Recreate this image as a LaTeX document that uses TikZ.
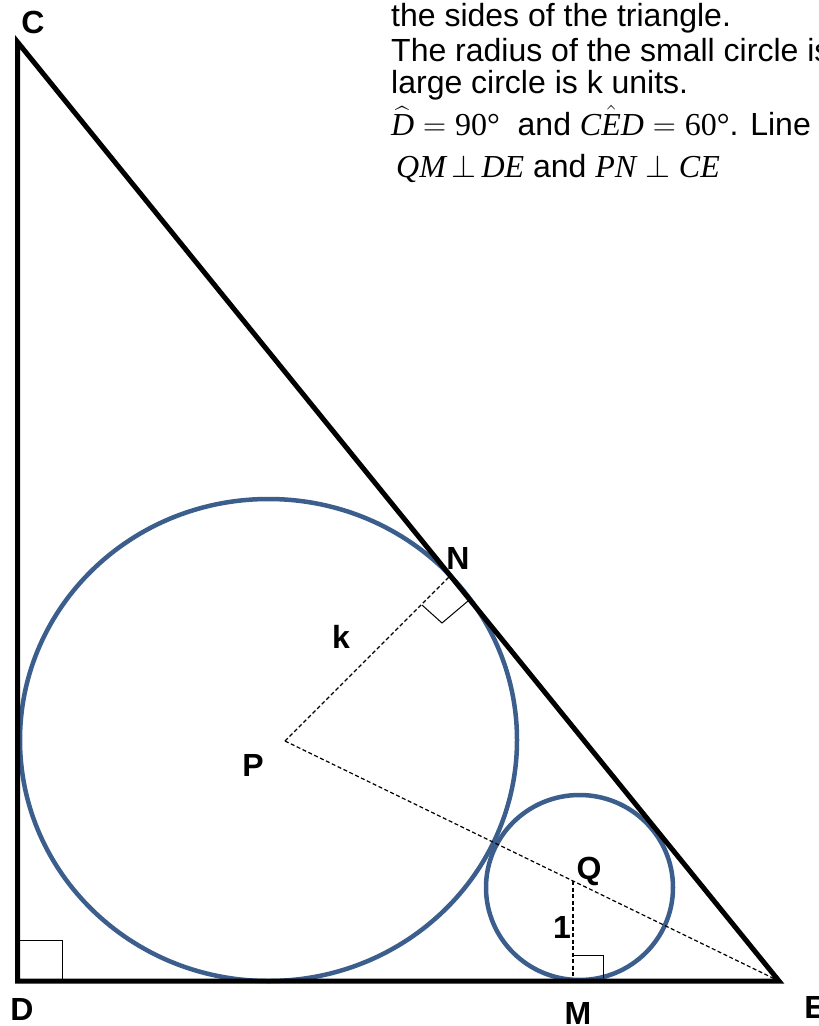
\documentclass[tikz,border=0pt]{standalone}
\usepackage{fix-cm}
\usepackage{amsmath}
\usepackage{fontspec}
\setmainfont{Liberation Sans}
\newfontfamily\serifface{Liberation Serif}
\definecolor{circblue}{RGB}{59,94,140}
\newcommand{\ivar}[1]{\text{\serifface\itshape #1}}
\begin{document}
\begin{tikzpicture}[x=1pt,y=-1pt,
  tri/.style={line width=5pt,black},
  circ/.style={line width=4.5pt,circblue},
  dsh/.style={line width=1.2pt,dash pattern=on 4pt off 2.5pt},
  rmark/.style={line width=1pt},
  lbl/.style={font=\fontsize{32}{36}\selectfont\bfseries,inner sep=0pt},
  txt/.style={font=\fontsize{32}{36}\selectfont,anchor=base west,inner sep=0pt}]
\useasboundingbox (0,0) rectangle (819,1026);
% points
\coordinate (C) at (17.5,42);
\coordinate (D) at (17.5,981);
\coordinate (E) at (779,981);
\coordinate (P) at (285,741);
\coordinate (N) at (449,577);
\coordinate (Q) at (573,881);
\coordinate (M) at (573,981);
\coordinate (O1) at (268.5,740);
\coordinate (O2) at (579.5,887.5);
\coordinate (na) at (422,605);
\coordinate (nb) at (442,623);
\coordinate (nc) at (468,601);
\coordinate (da) at (17.5,940);
\coordinate (db) at (62,940);
\coordinate (dc) at (62,981);
\coordinate (ma) at (573,955);
\coordinate (mb) at (603,955);
\coordinate (mc) at (603,978);
% circles
\draw[circ] (O1) circle [x radius=248.5, y radius=241];
\draw[circ] (O2) circle [x radius=93.5, y radius=92.5];
% dashed lines
\draw[dsh] (P) -- (N);
\draw[dsh] (P) -- (E);
\draw[dsh] (Q) -- (M);
% right angle marks
\draw[rmark] (na) -- (nb) -- (nc);
\draw[rmark] (da) -- (db) -- (dc);
\draw[rmark] (ma) -- (mb) -- (mc);
% triangle
\draw[tri] (C) -- (D) -- (E) -- cycle;
% labels
\node[lbl] (lC) at (33,22) {C};
\node[lbl] (lD) at (22,1009) {D};
\node[lbl] (lE) at (815,1007) {E};
\node[lbl] (lM) at (578,1013) {M};
\node[lbl] (lN) at (458,558) {N};
\node[lbl] (lk) at (341,637) {k};
\node[lbl] (lP) at (253,765) {P};
\node[lbl] (lQ) at (589,871) {Q};
\node[lbl] (l1) at (562,927) {1};
% text
\node[txt] (t1) at (391,26) {the sides of the triangle.};
\node[txt] (t2) at (391,61) {The radius of the small circle is};
\node[txt] (t3) at (391,93) {large circle is k units.};
\node[txt] (t4) at (391,135) {$\widehat{\ivar{D}}=\text{\serifface 90°}$\ \ and $\ivar{C}\hat{\ivar{E}}\ivar{D}=\text{\serifface 60°}$. Line};
\node[txt] (t5) at (396,177) {{\serifface\itshape QM}\,$\perp$\,{\serifface\itshape DE} and {\serifface\itshape PN} $\perp$ {\serifface\itshape CE}};
\end{tikzpicture}
\end{document}
